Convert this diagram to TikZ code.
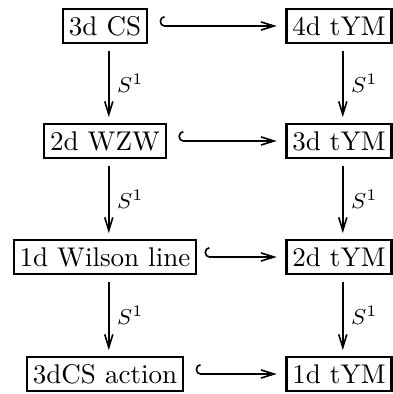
\documentclass[tikz,border=0pt]{standalone}
\usetikzlibrary{arrows.meta}
\begin{document}
\begin{tikzpicture}[x=0.37pt,y=-0.37pt,
  box/.style={draw,line width=0.9pt,inner xsep=2.2pt,inner ysep=0pt,minimum height=12.4pt},
  dn/.style={-{Straight Barb[length=4.8pt,width=3pt]},line width=0.6pt,shorten <=2.6pt,shorten >=2.2pt},
  inc/.style={{Hooks[right,length=1.8pt,width=7.4pt]}-{Straight Barb[length=4.8pt,width=3pt]},line width=0.6pt,shorten <=4.2pt,shorten >=3.2pt},
  lab/.style={right,inner sep=2.8pt,font=\footnotesize}]
\useasboundingbox (0,0) rectangle (393,394);
\node[box] (a1) at (105,26) {3d CS};
\node[box] (b1) at (339,26) {4d tYM};
\node[box] (a2) at (105,141) {2d WZW};
\node[box] (b2) at (339,141) {3d tYM};
\node[box] (a3) at (105,257) {1d Wilson line};
\node[box] (b3) at (339,257) {2d tYM};
\node[box] (a4) at (105,374) {3dCS action};
\node[box] (b4) at (339,374) {1d tYM};
\foreach \u/\v in {a1/a2,a2/a3,a3/a4,b1/b2,b2/b3,b3/b4}{
  \draw[dn] ([xshift=1.4pt]\u.south) -- node[lab]{$S^1$} ([xshift=1.4pt]\v.north);
}
\draw[inc] (a1) -- (b1);
\draw[inc] (a2) -- (b2);
\draw[inc,shorten <=2.6pt] (a3) -- (b3);
\draw[inc] (a4) -- (b4);
\end{tikzpicture}
\end{document}
